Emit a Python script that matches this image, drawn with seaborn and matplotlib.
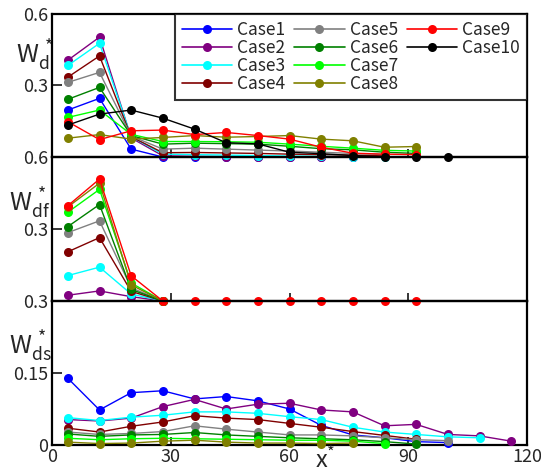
import numpy as np
import pandas as pd
import matplotlib
matplotlib.use("Agg")
import matplotlib.pyplot as plt
from matplotlib.lines import Line2D
import seaborn as sns

sns.set_style("white")
plt.rcParams['font.family'] = ['Noto Sans CJK JP', 'DejaVu Sans']
plt.rcParams['mathtext.fontset'] = 'custom'
plt.rcParams['mathtext.rm'] = 'Noto Sans CJK JP'

cases = ["Case1", "Case2", "Case3", "Case4", "Case5",
         "Case6", "Case7", "Case8", "Case9", "Case10"]
colors = ["#0000FF", "#800080", "#00FFFF", "#800000", "#808080",
          "#008000", "#00FF00", "#808000", "#FF0000", "#000000"]
x_all = [4, 12, 20, 28, 36, 44, 52, 60, 68, 76, 84, 92, 100, 108, 116]

# Top panel: W_d*
wd = {
    "Case1": [0.197, 0.246, 0.033, 0.0, 0.0, 0.0, 0.0, 0.0, 0.0, 0.0],
    "Case2": [0.406, 0.503, 0.080, 0.005, 0.003, 0.002, 0.002, 0.0, 0.0, 0.0],
    "Case3": [0.384, 0.477, 0.085, 0.012, 0.010, 0.008, 0.006, 0.004, 0.003, 0.002, 0.0],
    "Case4": [0.335, 0.424, 0.085, 0.018, 0.019, 0.017, 0.015, 0.012, 0.010, 0.008, 0.005],
    "Case5": [0.313, 0.355, 0.088, 0.033, 0.037, 0.033, 0.029, 0.025, 0.020, 0.015, 0.010],
    "Case6": [0.242, 0.292, 0.090, 0.054, 0.058, 0.056, 0.054, 0.045, 0.035, 0.030, 0.020, 0.015],
    "Case7": [0.166, 0.197, 0.095, 0.065, 0.065, 0.064, 0.062, 0.054, 0.045, 0.037, 0.028, 0.025],
    "Case8": [0.079, 0.094, 0.075, 0.082, 0.090, 0.083, 0.086, 0.090, 0.075, 0.068, 0.041, 0.044],
    "Case9": [0.148, 0.073, 0.110, 0.113, 0.094, 0.103, 0.090, 0.075, 0.041, 0.016, 0.012, 0.010],
    "Case10": [0.134, 0.180, 0.197, 0.163, 0.117, 0.060, 0.055, 0.020, 0.014, 0.006, 0.0, 0.0, 0.0],
}

# Middle panel: W_df*
wdf = {
    "Case2": [0.024, 0.042, 0.018, 0.0],
    "Case3": [0.106, 0.141, 0.029, 0.0],
    "Case4": [0.205, 0.264, 0.040, 0.0],
    "Case5": [0.285, 0.334, 0.055, 0.0],
    "Case6": [0.310, 0.402, 0.048, 0.0],
    "Case7": [0.370, 0.465, 0.075, 0.0],
    "Case8": [0.392, 0.491, 0.067, 0.0],
    "Case9": [0.397, 0.508, 0.105, 0.0, 0.0, 0.0, 0.0, 0.0, 0.0, 0.0, 0.0, 0.0],
}

# Bottom panel: W_ds*
wds = {
    "Case1": [0.139, 0.073, 0.109, 0.113, 0.096, 0.101, 0.092, 0.075, 0.041, 0.021, 0.015, 0.007, 0.005],
    "Case2": [0.053, 0.050, 0.056, 0.080, 0.095, 0.075, 0.085, 0.087, 0.073, 0.069, 0.040, 0.043, 0.022, 0.019, 0.008],
    "Case3": [0.057, 0.051, 0.058, 0.062, 0.069, 0.069, 0.066, 0.059, 0.053, 0.037, 0.027, 0.022, 0.017, 0.015],
    "Case4": [0.035, 0.027, 0.039, 0.048, 0.061, 0.056, 0.053, 0.045, 0.037, 0.028, 0.020, 0.012],
    "Case5": [0.027, 0.022, 0.024, 0.028, 0.040, 0.033, 0.027, 0.021, 0.021, 0.019, 0.015, 0.011, 0.009],
    "Case6": [0.023, 0.018, 0.021, 0.022, 0.026, 0.021, 0.018, 0.015, 0.013, 0.011, 0.007, 0.002],
    "Case7": [0.014, 0.011, 0.013, 0.014, 0.013, 0.012, 0.011, 0.010, 0.010, 0.008, 0.003],
    "Case8": [0.006, 0.003, 0.004, 0.008, 0.010, 0.006, 0.004, 0.004, 0.003, 0.004],
}

x_ticks = [0, 30, 60, 90, 120]
x_ticklabels = ["0", "30", "60", "90", "120"]


def to_long(d):
    rows = []
    for c in cases:
        if c in d:
            for xv, yv in zip(x_all, d[c]):
                rows.append((c, xv, yv))
    return pd.DataFrame(rows, columns=["case", "x", "y"])


pal = dict(zip(cases, colors))

fig = plt.figure(figsize=(5.41, 4.72), dpi=100)
FW, H = 541, 472
L, R = 52 / FW, 527 / FW
W = R - L
ax_top = fig.add_axes([L, 1 - 157 / H, W, 143 / H])
ax_mid = fig.add_axes([L, 1 - 301 / H, W, 144 / H])
ax_bot = fig.add_axes([L, 1 - 445 / H, W, 144 / H])

panels = [(ax_top, wd, (0, 0.6)), (ax_mid, wdf, (0, 0.6)), (ax_bot, wds, (0, 0.3))]
for ax, d, ylim in panels:
    df = to_long(d)
    order = [c for c in cases if c in d]
    sns.lineplot(data=df, x="x", y="y", hue="case", hue_order=order,
                 palette=pal, marker="o", markersize=6.5, markeredgewidth=0,
                 linewidth=1.0, estimator=None, sort=False, legend=False,
                 ax=ax, clip_on=False, zorder=3)
    ax.set_xlim(0, 120)
    ax.set_ylim(*ylim)
    ax.set_xlabel("")
    ax.set_ylabel("")
    for s in ax.spines.values():
        s.set_color("black")
        s.set_linewidth(1.6)
    ax.set_xticks([30, 60, 90])
    ax.tick_params(axis="x", direction="in", length=6, width=1.3, bottom=True,
                   top=False, labelbottom=False)
    ax.tick_params(axis="y", direction="in", length=7, width=1.3, left=True,
                   right=False, labelsize=13, pad=3)
    ax.set_facecolor("none")

ax_top.set_yticks([0.3, 0.6])
ax_top.set_yticklabels(["0.3", "0.6"])
ax_mid.set_yticks([0.3, 0.6])
ax_mid.set_yticklabels(["0.3", "0.6"])
ax_bot.set_yticks([0, 0.15, 0.3])
ax_bot.set_yticklabels(["0", "0.15", "0.3"])
ax_bot.set_xticks(x_ticks)
ax_bot.set_xticklabels(x_ticklabels)
ax_bot.tick_params(axis="x", labelbottom=True, labelsize=13, pad=2)


def px(x, y):
    return x / FW, 1 - y / H


# y labels
fig.text(*px(16, 54), r"$\mathregular{W_{d}^{\,*}}$", fontsize=18, va="center", ha="left")
fig.text(*px(9, 202), r"$\mathregular{W_{df}^{\,*}}$", fontsize=18, va="center", ha="left")
fig.text(*px(9, 345), r"$\mathregular{W_{ds}^{\,*}}$", fontsize=18, va="center", ha="left")
fig.text(*px(325, 459), r"$\mathregular{x^{*}}$", fontsize=17, ha="center", va="center")

# legend
handles = [Line2D([], [], color=c, marker="o", markersize=6.5, markeredgewidth=0, linewidth=1.2)
           for c in colors]
labels = list(cases)
handles = handles + [Line2D([], [], alpha=0), Line2D([], [], alpha=0)]
labels = labels + ["", ""]
leg = ax_top.legend(handles, labels, ncol=3, loc="upper right", bbox_to_anchor=(1, 1),
                    borderaxespad=0, frameon=True, fancybox=False, fontsize=12.5,
                    handlelength=2.9, handletextpad=0.3, columnspacing=0.5,
                    labelspacing=0.0, borderpad=0.4)
leg.get_frame().set_edgecolor("black")
leg.get_frame().set_linewidth(1.5)
leg.set_zorder(10)

fig.savefig("out.png", dpi=100)
